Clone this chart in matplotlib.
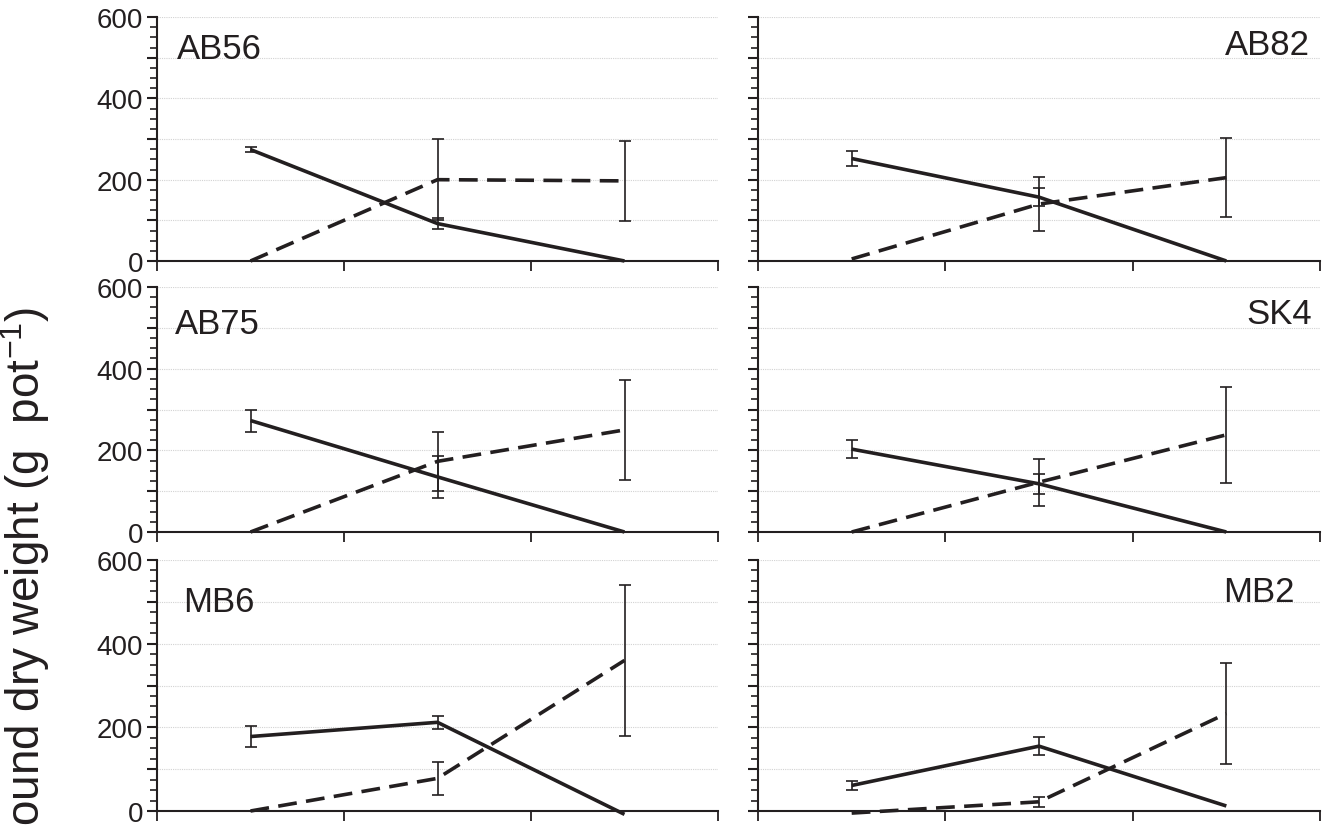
import numpy as np
import matplotlib
matplotlib.use("Agg")
import matplotlib.pyplot as plt
from matplotlib.ticker import MultipleLocator, FuncFormatter

plt.rcParams['font.family'] = ['Liberation Sans', 'DejaVu Sans']
plt.rcParams['mathtext.fontset'] = 'custom'
plt.rcParams['mathtext.rm'] = 'Liberation Sans'
plt.rcParams['mathtext.it'] = 'Liberation Sans:italic'
plt.rcParams['mathtext.bf'] = 'Liberation Sans:bold'

# Harvest stages (three positions along x) and panel names
stages = [0, 1, 2]
panel_names = ["AB56", "AB82", "AB75", "SK4", "MB6", "MB2"]

# Solid series: means and error half-widths per panel
solid_ab56 = [274, 92, 0]
solid_ab56_err = [7, 14, 0]
solid_ab82 = [252, 157, 0]
solid_ab82_err = [18, 22, 0]
solid_ab75 = [273, 135, 0]
solid_ab75_err = [27, 52, 0]
solid_sk4 = [203, 118, 0]
solid_sk4_err = [22, 25, 0]
solid_mb6 = [178, 212, -8]
solid_mb6_err = [25, 15, 0]
solid_mb2 = [61, 155, 12]
solid_mb2_err = [10, 21, 0]

# Dashed series: means and error half-widths per panel
dashed_ab56 = [0, 200, 197]
dashed_ab56_err = [0, 100, 98]
dashed_ab82 = [5, 140, 205]
dashed_ab82_err = [0, 67, 97]
dashed_ab75 = [0, 173, 250]
dashed_ab75_err = [0, 72, 123]
dashed_sk4 = [0, 122, 238]
dashed_sk4_err = [0, 58, 118]
dashed_mb6 = [0, 78, 360]
dashed_mb6_err = [0, 39, 181]
dashed_mb2 = [-5, 22, 233]
dashed_mb2_err = [0, 12, 121]

solid_vals = [solid_ab56, solid_ab82, solid_ab75, solid_sk4, solid_mb6, solid_mb2]
solid_errs = [solid_ab56_err, solid_ab82_err, solid_ab75_err, solid_sk4_err,
              solid_mb6_err, solid_mb2_err]
dashed_vals = [dashed_ab56, dashed_ab82, dashed_ab75, dashed_sk4, dashed_mb6, dashed_mb2]
dashed_errs = [dashed_ab56_err, dashed_ab82_err, dashed_ab75_err, dashed_sk4_err,
               dashed_mb6_err, dashed_mb2_err]

y_label = "ound dry weight (g  pot$^{\\mathrm{-1}}$)"

INK = "#231f20"
W, H = 1325, 829
fig = plt.figure(figsize=(W / 100, H / 100), dpi=100)


def px_box(x0, y0, x1, y1):
    return [x0 / W, 1 - y1 / H, (x1 - x0) / W, (y1 - y0) / H]


col_x = [(157, 718), (758, 1320)]
row_y = [(18, 262), (288, 533), (561, 812)]

# name placement (axes fraction): x, y, horizontal alignment
name_pos = [
    (0.036, 0.869, "left"), (0.982, 0.889, "right"),
    (0.032, 0.849, "left"), (0.986, 0.890, "right"),
    (0.046, 0.833, "left"), (0.955, 0.876, "right"),
]

for i, name in enumerate(panel_names):
    r, c = divmod(i, 2)
    x0, x1 = col_x[c]
    y0, y1 = row_y[r]
    ax = fig.add_axes(px_box(x0, y0, x1, y1))
    ax.set_xlim(-0.5, 2.5)
    ax.set_ylim(0, 600)

    for s in ("top", "right"):
        ax.spines[s].set_visible(False)
    for s in ("left", "bottom"):
        ax.spines[s].set_linewidth(1.5)
        ax.spines[s].set_color(INK)

    ax.yaxis.set_major_locator(MultipleLocator(100))
    ax.yaxis.set_minor_locator(MultipleLocator(25))
    ax.set_xticks([-0.5, 0.5, 1.5, 2.5])
    ax.set_xticklabels([])
    ax.tick_params(axis="x", direction="out", length=7, width=1.3, color=INK)
    ax.tick_params(axis="y", which="major", direction="out", length=7, width=1.5,
                   color=INK, labelsize=20, labelcolor=INK, pad=3)
    ax.tick_params(axis="y", which="minor", direction="out", length=5, width=1.2,
                   color=INK)
    if c == 0:
        ax.yaxis.set_major_formatter(
            FuncFormatter(lambda v, p: f"{int(v)}" if int(v) % 200 == 0 else ""))
    else:
        ax.set_yticklabels([])

    ax.grid(axis="y", which="major", color="#d2d2d2", linestyle=(0, (1, 1)),
            linewidth=0.8)
    ax.set_axisbelow(True)

    sv = np.array(solid_vals[i], dtype=float)
    se = np.array(solid_errs[i], dtype=float)
    dv = np.array(dashed_vals[i], dtype=float)
    de = np.array(dashed_errs[i], dtype=float)
    x = np.array(stages, dtype=float)

    ax.plot(x, sv, color=INK, lw=2.6, solid_capstyle="butt", clip_on=False, zorder=3)
    ax.plot(x, dv, color=INK, lw=2.6, linestyle=(0, (5.2, 2.6)), clip_on=False,
            zorder=3)

    for vals, errs in ((sv, se), (dv, de)):
        m = errs > 0
        ax.errorbar(x[m], vals[m], yerr=errs[m], fmt="none", ecolor=INK,
                    elinewidth=1.2, capsize=4.3, capthick=1.2, zorder=4)

    tx, ty, ha = name_pos[i]
    ax.text(tx, ty, name, transform=ax.transAxes, ha=ha, va="center",
            fontsize=25, color=INK)

fig.text(25 / W, 1 - 826 / H, y_label, rotation=90, ha="center", va="bottom",
         fontsize=33, color=INK)

fig.savefig("out.png", dpi=100)
